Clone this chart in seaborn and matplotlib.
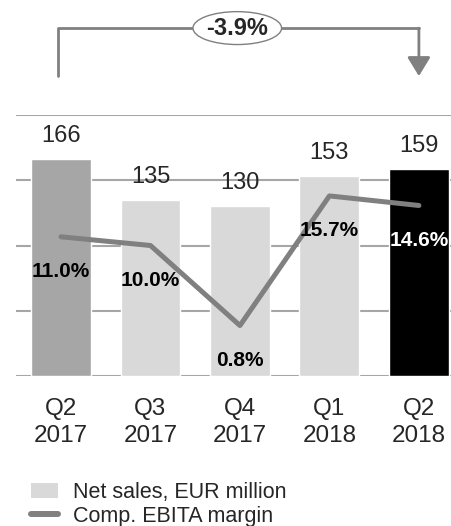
import numpy as np
import seaborn as sns
import matplotlib.pyplot as plt
from matplotlib.patches import Ellipse, Patch
from matplotlib.lines import Line2D
import matplotlib.transforms as mtransforms

quarters = ["Q2\n2017", "Q3\n2017", "Q4\n2017", "Q1\n2018", "Q2\n2018"]
net_sales = [166, 135, 130, 153, 159]
ebita_margin = [11.0, 10.0, 0.8, 15.7, 14.6]
bar_colors = ["#a6a6a6", "#d9d9d9", "#d9d9d9", "#d9d9d9", "#000000"]
margin_text_colors = ["black", "black", "black", "black", "white"]
change_label = "-3.9%"

sns.set_style("white")
plt.rcParams['font.family'] = ['Liberation Sans', 'DejaVu Sans']

fig = plt.figure(figsize=(4.52, 5.26), dpi=100)
ax = fig.add_axes([16 / 452, 150 / 526, 436 / 452, 261 / 526])

# bars for net sales
sns.barplot(x=quarters, y=net_sales, hue=quarters, palette=bar_colors,
            legend=False, width=0.67, saturation=1, ax=ax, zorder=2)
ax.set_ylim(0, 200)
ax.set_yticks(np.arange(0, 201, 50))
ax.yaxis.grid(True, color="#a6a6a6", lw=1.5, zorder=0)
ax.set_axisbelow(True)
for s in ax.spines.values():
  s.set_visible(False)
ax.set_xlabel("")
ax.set_ylabel("")

# sales value labels above bars
for i, v in enumerate(net_sales):
  ax.text(i, v + 17.6, str(v), ha="center", va="center", fontsize=17)

# margin line on a secondary axis
ax2 = ax.twinx()
sns.lineplot(x=np.arange(len(ebita_margin)), y=ebita_margin, ax=ax2,
             color="#808080", lw=3.6, solid_capstyle="round")
ax2.set_ylim(-5, 25)
ax2.axis("off")
for i, m in enumerate(ebita_margin):
  ax2.annotate(f"{m:.1f}%", (i, m), xytext=(0, -25), textcoords="offset points",
               ha="center", va="center", fontsize=15, fontweight="bold",
               color=margin_text_colors[i])

# twinx turns the left ticks back on, so hide them here
ax.tick_params(axis="y", left=False, labelleft=False)
ax.tick_params(axis="x", bottom=False, labelsize=17.5, pad=12)
for lbl in ax.get_xticklabels():
  lbl.set_linespacing(1.3)
ax.set_xlim(-0.503, 4.37)

# change bracket above the bars
tr = mtransforms.blended_transform_factory(ax.transData, ax.transAxes)
y_low, y_high = 1.149, 1.333
ax.add_line(Line2D([-0.03, -0.03, 4], [y_low, y_high, y_high],
                   transform=tr, color="#808080", lw=2, clip_on=False))
ax.annotate("", xy=(4, y_low), xytext=(4, y_high), xycoords=tr, textcoords=tr,
            arrowprops=dict(arrowstyle="-|>,head_length=0.82,head_width=0.5",
                            color="#808080", lw=2, mutation_scale=14,
                            shrinkA=0, shrinkB=0), annotation_clip=False)
ax.add_patch(Ellipse((1.97, y_high), 0.99, 0.126, transform=tr, facecolor="white",
                     edgecolor="#808080", lw=1, clip_on=False, zorder=5))
ax.text(1.97, y_high, change_label, transform=tr, ha="center", va="center",
        fontsize=17, fontweight="bold", zorder=6, clip_on=False)

# legend
handles = [Patch(facecolor="#d9d9d9", edgecolor="none"),
           Line2D([0], [0], color="#808080", lw=4.3)]
fig.legend(handles, ["Net sales, EUR million", "Comp. EBITA margin"],
           loc="upper left", bbox_to_anchor=(31 / 452, 1 - 482 / 526),
           frameon=False, fontsize=15.5, borderpad=0, borderaxespad=0,
           handlelength=1.25, handleheight=0.7, handletextpad=0.7, labelspacing=0.12)

fig.savefig("out.png", dpi=100)
